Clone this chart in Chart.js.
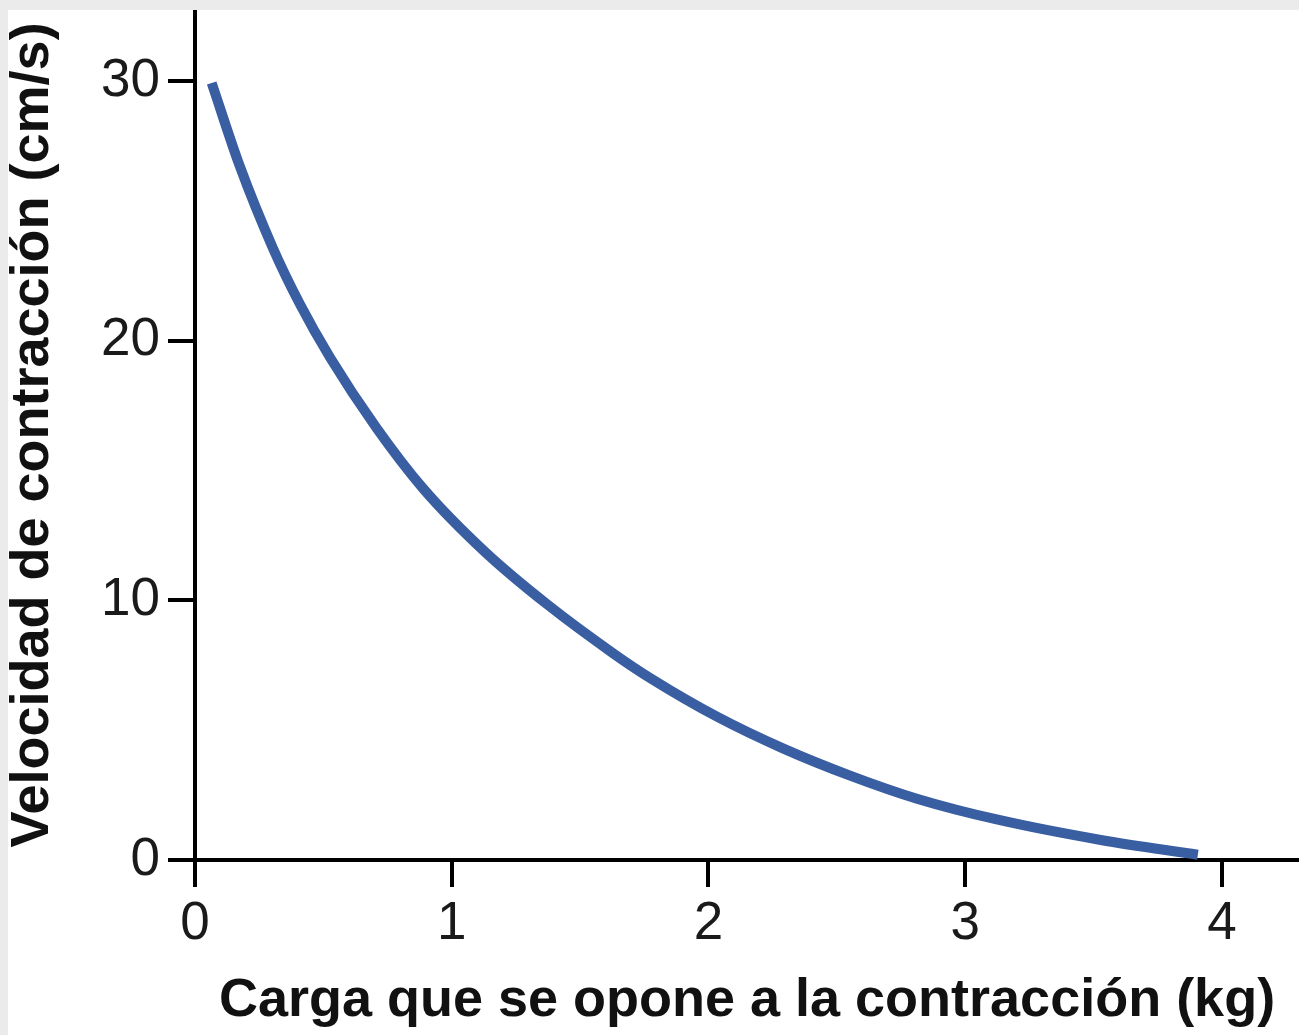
<!DOCTYPE html>
<html lang="es">
<head>
<meta charset="utf-8">
<title>Velocidad de contracción frente a la carga</title>
<script src="https://cdn.jsdelivr.net/npm/chart.js@4.4.1/dist/chart.umd.min.js"></script>
<style>
  html, body { margin: 0; padding: 0; background: #ebebeb; }
  #frame {
    position: absolute; left: 8px; top: 10px;
    width: 1291px; height: 1025px; background: #ffffff;
  }
  #chart { display: block; }
</style>
</head>
<body>
<div id="frame"><canvas id="chart" width="1291" height="1025"></canvas></div>
<script>
// Load opposing the contraction (kg) and resulting contraction velocity (cm/s)
const loadKg   = [0.065, 0.175, 0.304, 0.409, 0.526, 0.706, 0.889, 1.131, 1.372, 1.630, 1.774, 2.035, 2.292, 2.554, 2.815, 3.127, 3.528, 3.906];
const velocity = [29.92, 26.7, 23.55, 21.4, 19.35, 16.65, 14.3, 11.85, 9.84, 7.95, 7.0, 5.51, 4.29, 3.24, 2.35, 1.55, 0.77, 0.2];

const xTicks = [0, 1, 2, 3, 4];
const yTicks = [0, 10, 20, 30];

const xTitle = 'Carga que se opone a la contracción (kg)';
const yTitle = 'Velocidad de contracción (cm/s)';

const points = loadKg.map((x, i) => ({ x: x, y: velocity[i] }));

const tickFont  = { family: '"Liberation Sans", Arial, Helvetica, sans-serif', size: 53, lineHeight: 1 };
const titleFont = { family: '"Liberation Sans", Arial, Helvetica, sans-serif', size: 54, weight: 'bold', lineHeight: 1 };

new Chart(document.getElementById('chart'), {
  type: 'line',
  data: {
    datasets: [{
      data: points,
      borderColor: '#3a5ea2',
      borderWidth: 10,
      borderCapStyle: 'butt',
      pointRadius: 0,
      fill: false,
      cubicInterpolationMode: 'monotone'
    }]
  },
  options: {
    responsive: false,
    animation: false,
    clip: false,
    layout: { padding: 0 },
    plugins: { legend: { display: false }, tooltip: { enabled: false } },
    scales: {
      x: {
        type: 'linear',
        min: 0,
        max: 4.3,
        afterFit: s => { s.height = 175; s.paddingLeft = 0; s.paddingRight = 0; },
        afterBuildTicks: s => { s.ticks = xTicks.map(v => ({ value: v })); },
        border: { display: true, color: '#000', width: 4 },
        grid: { drawOnChartArea: false, drawTicks: true, tickLength: 27, color: '#000', lineWidth: 4 },
        ticks: { font: tickFont, color: '#1a1a1a', padding: 11, maxRotation: 0, callback: v => String(v) },
        title: { display: true, text: xTitle, font: titleFont, color: '#111', padding: { top: 0, bottom: 7 } }
      },
      y: {
        type: 'linear',
        min: 0,
        max: 32.73,
        afterFit: s => { s.width = 187; s.paddingTop = 0; s.paddingBottom = 0; },
        afterBuildTicks: s => { s.ticks = yTicks.map(v => ({ value: v })); },
        border: { display: true, color: '#000', width: 4 },
        grid: { drawOnChartArea: false, drawTicks: true, tickLength: 27, color: '#000', lineWidth: 4 },
        ticks: { font: tickFont, color: '#1a1a1a', padding: 8, callback: v => String(v) },
        title: { display: true, text: yTitle, font: titleFont, color: '#111', padding: { top: -2, bottom: 0 } }
      }
    }
  }
});
</script>
</body>
</html>
